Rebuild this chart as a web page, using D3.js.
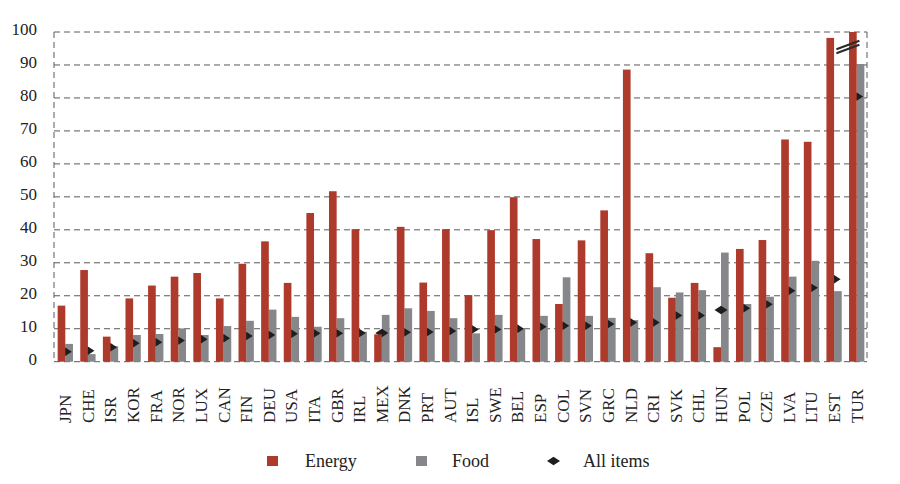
<!DOCTYPE html>
<html><head><meta charset="utf-8">
<script src="https://cdn.jsdelivr.net/npm/d3@7"></script>
<style>body{margin:0;background:#fff}svg{display:block}
svg text{font-family:"Liberation Serif","Times New Roman",Times,"DejaVu Serif",serif !important;}</style>
</head><body><svg id="c" width="900" height="484"></svg>
<script>
const categories = ["JPN","CHE","ISR","KOR","FRA","NOR","LUX","CAN","FIN","DEU","USA","ITA","GBR","IRL","MEX","DNK","PRT","AUT","ISL","SWE","BEL","ESP","COL","SVN","GRC","NLD","CRI","SVK","CHL","HUN","POL","CZE","LVA","LTU","EST","TUR"];
const energy = [17.0,27.8,7.6,19.2,23.1,25.8,26.9,19.2,29.7,36.5,23.9,45.1,51.7,40.2,8.3,40.9,24.0,40.2,20.2,39.9,49.9,37.2,17.5,36.8,45.9,88.6,32.9,19.4,23.9,4.4,34.2,36.9,67.4,66.7,98.2,100];
const food = [5.4,2.3,4.7,8.1,8.4,10.1,8.1,10.8,12.4,15.8,13.6,10.6,13.2,9.1,14.2,16.2,15.4,13.2,8.6,14.2,10.1,13.9,25.6,13.9,13.3,12.6,22.6,21.0,21.7,33.1,17.5,19.7,25.8,30.6,21.4,90.3];
const allItems = [3.0,3.3,4.4,5.6,5.9,6.4,6.8,7.1,7.8,8.1,8.5,8.6,8.6,8.7,8.7,8.9,9.0,9.3,9.8,9.8,10.0,10.6,10.9,10.9,11.4,11.9,11.9,14.0,14.0,15.7,16.2,17.4,21.5,22.4,25.0,80.4];
const yTicks = [0,10,20,30,40,50,60,70,80,90,100];
const seriesNames = ["Energy","Food","All items"];

const colEnergy = "#ae3a2c", colFood = "#86878b", colAll = "#1e1e1e", gridCol = "#5a5a5a";

const svg = d3.select("#c");
const L = 54, R = 868, T = 32, B = 361.7;
const x0 = d3.scaleBand().domain(categories).range([L, R]).padding(0);
const x1 = d3.scaleBand().domain(["energy","food"]).range([0, x0.bandwidth()]).paddingInner(0).paddingOuter(0.477);
const y = d3.scaleLinear().domain([0, 100]).range([B, T]).clamp(true);

// gridlines
svg.append("g").selectAll("line").data(yTicks).join("line")
  .attr("x1", L).attr("x2", R - 1).attr("y1", d => y(d)).attr("y2", d => y(d))
  .attr("stroke", gridCol).attr("stroke-width", 1).attr("stroke-dasharray", "6,4");
// left & right dashed frame
[L, R - 1].forEach(xx => svg.append("line").attr("x1", xx).attr("x2", xx).attr("y1", T).attr("y2", B)
  .attr("stroke", gridCol).attr("stroke-width", 1).attr("stroke-dasharray", "6,4"));

// y tick labels
const yAxis = d3.axisLeft(y).tickValues(yTicks).tickSize(0).tickPadding(17);
const ya = svg.append("g").attr("transform", `translate(${L},-3)`).call(yAxis);
ya.select(".domain").remove();
ya.selectAll("text").attr("font-size", 17).attr("fill", "#222");

const data = categories.map((c, i) => ({c, e: energy[i], f: food[i], a: allItems[i]}));

// food bars
svg.append("g").selectAll("rect").data(data).join("rect")
  .attr("x", d => x0(d.c) + x1("food")).attr("width", x1.bandwidth())
  .attr("y", d => y(d.f)).attr("height", d => B - y(d.f)).attr("fill", colFood);

// all items diamonds
const dw = 6.5, dh = 4.2;
svg.append("g").selectAll("path").data(data).join("path")
  .attr("transform", d => `translate(${x0(d.c) + x0.bandwidth() / 2},${y(d.a)})`)
  .attr("d", `M${-dw},0L0,${-dh}L${dw},0L0,${dh}Z`).attr("fill", colAll);

// energy bars
svg.append("g").selectAll("rect").data(data).join("rect")
  .attr("x", d => x0(d.c) + x1("energy")).attr("width", x1.bandwidth())
  .attr("y", d => y(d.e)).attr("height", d => B - y(d.e)).attr("fill", colEnergy);

// break marks on TUR
const tx = x0("TUR");
[0, 4].forEach(off => svg.append("line")
  .attr("x1", tx - 9).attr("y1", 49.3 + off).attr("x2", tx + 14).attr("y2", 40.7 + off)
  .attr("stroke", "#2a2a2a").attr("stroke-width", 2));

// x labels
const xa = svg.append("g").attr("transform", `translate(0,423)`).call(d3.axisBottom(x0).tickSize(0));
xa.select(".domain").remove();
xa.selectAll("text").attr("font-size", 17).attr("fill", "#222")
  .attr("transform", "rotate(-90)").attr("text-anchor", "start").attr("x", 0).attr("y", 0).attr("dy", "0.35em");

// legend
const lg = svg.append("g").attr("font-size", 18).attr("fill", "#222");
lg.append("rect").attr("x", 267).attr("y", 456).attr("width", 11).attr("height", 10).attr("fill", colEnergy);
lg.append("text").attr("x", 305).attr("y", 467).text(seriesNames[0]);
lg.append("rect").attr("x", 416).attr("y", 456).attr("width", 11).attr("height", 10).attr("fill", colFood);
lg.append("text").attr("x", 452).attr("y", 467).text(seriesNames[1]);
lg.append("path").attr("transform", "translate(553.5,461)").attr("d", `M${-dw},0L0,${-dh}L${dw},0L0,${dh}Z`).attr("fill", colAll);
lg.append("text").attr("x", 583).attr("y", 467).text(seriesNames[2]);
</script></body></html>
